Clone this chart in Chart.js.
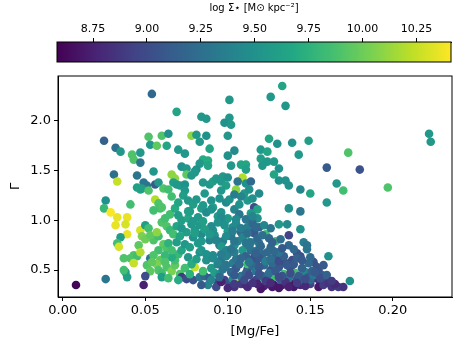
<!DOCTYPE html>
<html>
<head>
<meta charset="utf-8">
<script src="https://cdn.jsdelivr.net/npm/chart.js@4/dist/chart.umd.min.js"></script>
<style>
  body { margin: 0; background: #fff; }
  #wrap { position: relative; width: 463px; height: 347px; }
  #main, #cbar { position: absolute; left: 0; top: 0; }
</style>
</head>
<body>
<div id="wrap">
  <canvas id="main" width="463" height="347"></canvas>
  <canvas id="cbar" width="463" height="68"></canvas>
</div>
<script>
// [Mg/Fe] (x), Gamma (y) and log Sigma_* (colour), one entry per galaxy
const mgFe = [
  .008,.026,.049,.054,.101,.069,.084,.087,.101,.098,
  .102,.025,.052,.060,.064,.078,.081,.083,.087,.100,
  .053,.057,.063,.032,.035,.042,.043,.047,.047,.070,
  .074,.089,.085,.088,.088,.083,.100,.104,.102,.108,
  .111,.111,.072,.075,.080,.081,.055,.031,.033,.045,
  .066,.068,.075,.078,.080,.056,.058,.049,.051,.045,
  .047,.048,.052,.061,.064,.067,.069,.071,.074,.074,
  .085,.089,.091,.093,.097,.100,.096,.099,.105,.109,
  .106,.111,.114,.110,.133,.126,.135,.125,.130,.139,
  .149,.120,.124,.120,.124,.128,.121,.131,.128,.131,
  .135,.137,.143,.144,.150,.160,.180,.173,.166,.170,
  .197,.222,.223,.160,.137,.144,.116,.118,.114,.118,
  .131,.136,.144,.137,.123,.129,.119,.116,.125,.132,
  .137,.146,.148,.148,.142,.144,.161,.152,.154,.155,
  .147,.139,.135,.138,.134,.141,.128,.119,.153,.156,
  .159,.163,.167,.149,.174,.128,.133,.139,.144,.122,
  .117,.126,.131,.122,.117,.112,.129,.121,.114,.126,
  .119,.111,.113,.122,.126,.026,.025,.029,.033,.039,
  .041,.032,.038,.039,.035,.033,.034,.047,.048,.050,
  .046,.037,.041,.043,.045,.043,.038,.039,.037,.047,
  .053,.055,.058,.050,.052,.056,.058,.059,.055,.060,
  .053,.057,.060,.062,.063,.065,.067,.061,.063,.058,
  .055,.059,.057,.051,.053,.058,.060,.063,.066,.068,
  .071,.050,.060,.064,.072,.075,.079,.080,.083,.086,
  .089,.094,.098,.101,.103,.106,.108,.111,.068,.070,
  .066,.072,.069,.074,.071,.075,.069,.072,.065,.068,
  .070,.073,.066,.076,.079,.077,.076,.078,.080,.079,
  .077,.076,.078,.081,.083,.082,.084,.083,.082,.084,
  .081,.086,.090,.087,.085,.091,.089,.084,.087,.090,
  .092,.094,.091,.095,.092,.090,.094,.091,.095,.096,
  .099,.096,.098,.100,.097,.099,.096,.098,.095,.102,
  .103,.100,.104,.102,.103,.100,.104,.101,.104,.107,
  .107,.105,.108,.106,.109,.107,.105,.108,.111,.112,
  .111,.113,.110,.112,.111,.112,.108,.115,.116,.114,
  .116,.115,.113,.117,.119,.118,.118,.117,.124,.121,
  .125,.129,.123,.127,.131,.134,.131,.128,.133,.140,
  .137,.142,.146,.150,.155,.120,.112,.104,.100,.093,
  .088,.084,.096,.132,.150,.157,.160,.152,.145,.149,
  .140,.158,.170,.140,.135,.076,.079,.086,.089,.096,
  .099,.105,.107,.072,.080,.084,.087,.094,.097,.104,
  .070,.085,.090,.096,.098,.103,.109,.111,.117,.119,
  .062,.064,.066,.074,.070,.077,.085,.090,.062,.054,
  .118,.123,.127,.133,.138,.143,.147,.151,.156,.161,
  .108,.113,.104,.099,.119,.126,.131,.136,.142,.165,
  .095,.099,.091,.096,.102,.093,.099,.104,.108,.112,
  .117,.121,.120,.124,.127,.115,.105,.094,.115,.119,
  .113,.104,.110,.115,.126,.131,.137,.142,.147,.153,
  .160,.163,.145,.150,.158
];
const gamma = [
  .35,.41,.35,2.27,2.21,2.09,2.04,2.02,2.03,1.98,
  1.96,1.80,1.84,1.85,1.87,1.85,1.86,1.79,1.85,1.85,
  1.76,1.75,1.75,1.73,1.69,1.66,1.61,1.68,1.58,1.71,
  1.67,1.72,1.61,1.60,1.55,1.57,1.65,1.70,1.55,1.56,
  1.56,1.51,1.54,1.52,1.49,1.51,1.49,1.46,1.39,1.45,
  1.46,1.42,1.46,1.45,1.48,1.36,1.38,1.38,1.35,1.33,
  1.31,1.32,1.30,1.32,1.31,1.38,1.36,1.35,1.36,1.30,
  1.38,1.36,1.39,1.42,1.44,1.43,1.39,1.35,1.31,1.43,
  1.39,1.37,1.39,1.27,2.35,2.24,2.15,1.82,1.77,1.78,
  1.80,1.71,1.69,1.62,1.59,1.59,1.55,1.52,1.46,1.40,
  1.40,1.35,1.66,1.31,1.27,1.53,1.51,1.68,1.37,1.30,
  1.33,1.87,1.79,1.18,1.12,1.09,1.13,1.11,1.07,1.02,
  .96,.96,.91,.85,.86,.79,.93,.87,.82,.81,
  .75,.78,.71,.75,.67,.64,.64,.58,.53,.50,
  .48,.60,.57,.52,.46,.47,.43,.42,.42,.38,
  .37,.33,.33,.43,.39,.35,.35,.36,.35,.34,
  .37,.50,.53,.55,.58,.51,.63,.66,.70,.73,
  .77,.80,.90,.95,.92,1.20,1.12,1.08,1.03,1.03,
  1.16,.95,.96,.86,.83,.77,.735,.90,.84,.81,
  .75,.62,.62,.65,.64,.57,.48,.43,.50,.68,
  .62,.80,.84,.95,.92,1.21,1.17,1.12,1.10,1.13,
  .85,.88,.98,1.02,.94,.90,.86,.76,.72,.70,
  .65,.60,.56,.55,.49,.50,.47,.53,.49,.55,
  .46,.44,.43,.42,.43,.41,.40,.53,.43,.44,
  .42,.38,.40,.37,.41,.39,.36,.35,.60,.66,
  .63,.70,.78,.76,.84,.88,.94,1.00,1.06,1.12,
  1.18,1.25,1.24,1.20,1.16,1.09,1.02,.96,.90,.83,
  .73,.63,.56,.61,.68,.77,.86,.95,1.03,1.12,
  1.21,1.27,1.20,1.08,.99,.90,.80,.70,.60,.52,
  .47,.56,.65,.75,.85,.94,1.04,1.13,1.22,1.30,
  1.18,1.08,.98,.89,.79,.70,.61,.53,.46,.48,
  .57,.66,.75,.84,.93,1.02,1.11,1.21,1.26,1.16,
  1.06,.97,.88,.79,.70,.60,.52,.44,.47,.56,
  .64,.74,.83,.93,1.01,1.20,1.24,.97,.88,.78,
  .63,.54,.45,.49,.62,.70,.82,.40,.40,.44,
  .47,.49,.59,.57,.59,.64,.68,.69,.72,.71,
  .42,.41,.38,.36,.33,.31,.33,.33,.32,.33,
  .35,.35,.38,.40,.40,.45,.40,.45,.52,.57,
  .56,.35,.33,.33,.38,1.09,.99,.91,.86,.74,
  .69,.61,.56,.92,.87,.79,.66,.57,.51,.45,
  1.05,1.15,1.11,1.03,.95,.89,.83,.77,.67,.53,
  .65,.77,.70,.52,.40,.46,.49,.40,.58,.58,
  .36,.39,.33,.44,.47,.44,.34,.49,.42,.37,
  .62,.58,.68,.64,.46,.61,.43,.55,.62,.36,
  .43,.55,.62,.66,.71,.80,.84,.79,.92,.87,
  .93,.85,.74,.68,.78,1.04,1.01,.98,1.22,1.27,
  1.31,.36,.40,.37,.37,.32,.33,.37,.41,.48,
  .45,.39,.60,.63,.55
];
const logSigma = [
  8.60,9.30,8.75,9.20,9.55,9.65,9.55,9.55,9.55,9.50,
  9.55,9.15,9.90,9.90,9.50,10.10,9.55,9.55,9.50,9.55,
  9.55,9.95,9.65,9.25,9.55,9.90,9.90,9.55,9.30,9.55,
  9.55,9.65,9.70,9.70,9.65,9.55,9.50,9.45,9.55,9.65,
  9.65,9.60,9.50,9.55,9.55,9.50,9.55,9.25,10.25,9.30,
  10.10,10.10,9.95,9.55,9.55,9.10,9.55,9.30,9.30,9.60,
  9.65,9.60,9.90,9.90,9.85,9.60,9.55,9.55,9.50,9.55,
  9.55,9.55,9.60,9.55,9.55,9.50,9.55,9.60,10.10,10.20,
  9.30,9.50,9.20,9.55,9.65,9.55,9.55,9.65,9.50,9.50,
  9.60,9.55,9.65,9.60,9.55,9.55,9.55,9.50,9.65,9.50,
  9.50,9.50,9.55,9.40,9.65,9.10,9.05,9.90,9.55,9.85,
  9.90,9.55,9.55,9.55,9.50,9.30,9.00,9.65,9.55,9.50,
  9.55,9.45,9.50,8.95,9.85,9.85,9.15,9.10,9.20,9.25,
  9.20,9.35,9.30,9.30,9.05,9.05,9.50,9.05,9.05,9.05,
  9.40,9.00,9.05,9.00,9.85,9.85,9.85,9.85,8.85,8.85,
  8.90,8.85,8.90,9.10,9.50,8.70,8.75,8.70,8.80,8.75,
  8.85,9.05,9.10,9.20,9.10,9.00,9.15,9.20,9.25,9.20,
  9.30,9.35,9.25,9.40,9.30,9.50,9.80,10.40,10.35,10.35,
  9.85,10.35,10.30,10.35,9.60,9.85,10.30,10.30,10.05,10.00,
  9.95,9.90,9.90,9.90,9.85,10.25,9.60,9.60,9.85,10.20,
  9.30,9.90,9.85,9.60,9.85,10.20,9.90,9.85,9.85,9.90,
  9.95,10.10,9.90,9.85,9.90,9.80,9.85,9.95,9.90,9.85,
  9.90,9.95,10.05,9.90,9.95,9.90,9.85,9.90,10.05,9.95,
  9.90,9.00,9.60,9.85,8.90,9.00,9.05,10.25,9.30,9.20,
  9.10,8.90,8.95,9.05,9.50,10.10,8.90,8.80,9.85,9.80,
  9.70,9.65,9.60,9.55,9.65,9.60,9.65,9.60,9.85,9.70,
  9.65,9.60,9.85,9.55,9.60,9.55,9.65,9.55,9.55,9.50,
  9.60,9.55,9.70,9.60,9.50,9.55,9.45,9.55,9.55,9.60,
  9.55,9.55,9.50,9.45,9.60,9.50,9.40,9.55,9.50,9.55,
  9.60,9.35,9.45,9.30,9.50,9.45,9.55,9.60,9.50,9.55,
  9.45,9.50,9.40,9.55,9.35,9.40,9.30,9.20,9.50,9.20,
  9.35,9.25,9.50,9.30,9.45,9.55,9.40,9.50,9.35,9.50,
  9.30,9.45,9.20,9.40,9.55,9.25,9.10,9.30,9.15,9.85,
  9.15,9.30,9.85,9.35,9.30,9.55,9.40,9.20,9.10,9.30,
  9.05,9.20,9.00,9.30,9.10,9.25,9.20,8.95,9.05,9.15,
  9.25,9.10,9.35,9.20,9.00,9.15,9.30,9.20,9.10,9.20,
  9.30,9.05,9.20,8.95,8.70,8.70,8.80,8.85,8.80,9.00,
  9.40,9.10,8.75,9.10,9.20,9.10,9.00,9.30,9.15,9.20,
  9.10,8.90,8.85,8.70,8.85,9.60,9.55,9.60,9.55,9.55,
  9.40,9.30,9.20,9.55,9.60,9.55,9.50,9.40,9.30,9.10,
  9.60,9.55,9.50,9.45,9.50,9.35,9.40,9.30,9.15,9.10,
  9.80,9.75,9.85,9.85,9.70,9.75,9.85,9.40,9.90,9.95,
  8.75,8.90,8.70,9.05,9.00,9.10,8.80,9.15,9.00,8.85,
  9.20,9.30,9.35,9.40,9.05,9.25,9.00,9.10,9.15,8.80,
  9.20,9.30,9.45,9.35,9.30,9.40,9.45,9.30,9.35,9.25,
  9.20,9.25,9.20,9.20,9.15,9.40,9.45,9.50,9.50,9.45,
  9.50,8.90,9.00,8.85,8.80,8.70,8.75,8.90,9.00,9.10,
  9.15,8.90,9.10,9.20,9.10
];

// tick labels
const xTicks = [0.00, 0.05, 0.10, 0.15, 0.20];
const yTicks = [0.5, 1.0, 1.5, 2.0];
const cbTicks = [8.75, 9.00, 9.25, 9.50, 9.75, 10.00, 10.25];
const cMin = 8.583, cMax = 10.41;

// viridis colour map
const viridisStops = ["#440154", "#482475", "#414487", "#355f8d", "#2a788e", "#21918c",
  "#22a884", "#44bf70", "#7ad151", "#bddf26", "#fde725"];

function hexToRgb(h) {
  return [parseInt(h.slice(1, 3), 16), parseInt(h.slice(3, 5), 16), parseInt(h.slice(5, 7), 16)];
}

function viridis(v) {
  let t = Math.min(1, Math.max(0, (v - cMin) / (cMax - cMin)));
  const pos = t * (viridisStops.length - 1);
  const i = Math.min(viridisStops.length - 2, Math.floor(pos));
  const f = pos - i;
  const a = hexToRgb(viridisStops[i]), b = hexToRgb(viridisStops[i + 1]);
  const c = a.map((ai, k) => Math.round(ai + (b[k] - ai) * f));
  return `rgb(${c[0]},${c[1]},${c[2]})`;
}

Chart.defaults.font.family = "'DejaVu Sans', sans-serif";
Chart.defaults.color = "#000";

// black frame round the chart area
const frame = {
  id: "frame",
  afterDraw(chart) {
    const a = chart.chartArea, ctx = chart.ctx;
    ctx.save();
    ctx.strokeStyle = "#000";
    ctx.lineWidth = 1;
    ctx.strokeRect(a.left, a.top, a.right - a.left, a.bottom - a.top);
    ctx.restore();
  }
};

// scatter plot
const points = mgFe.map((x, i) => ({ x: x, y: gamma[i] }));
const colors = logSigma.map(viridis);

new Chart(document.getElementById("main").getContext("2d"), {
  type: "scatter",
  data: {
    datasets: [{
      data: points,
      backgroundColor: colors,
      borderWidth: 0,
      pointRadius: 4.3,
      pointHoverRadius: 4.3
    }]
  },
  options: {
    responsive: false,
    animation: false,
    events: [],
    layout: { padding: { top: 76, right: 11, left: 0, bottom: 0 } },
    plugins: { legend: { display: false }, tooltip: { enabled: false } },
    scales: {
      x: {
        type: "linear",
        min: -0.0029,
        max: 0.2359,
        afterBuildTicks: s => { s.ticks = xTicks.map(v => ({ value: v })); },
        afterFit: s => { s.height = 50; },
        ticks: { callback: v => v.toFixed(2), font: { size: 13 }, padding: 2, maxRotation: 0 },
        grid: { drawOnChartArea: false, tickLength: 4, color: "#000" },
        border: { color: "#000" },
        title: { display: true, text: "[Mg/Fe]", font: { size: 13 }, padding: { top: 0, bottom: 8 } }
      },
      y: {
        type: "linear",
        min: 0.23,
        max: 2.45,
        afterBuildTicks: s => { s.ticks = yTicks.map(v => ({ value: v })); },
        afterFit: s => { s.width = 58; },
        ticks: { callback: v => v.toFixed(1), font: { size: 13 }, padding: 3 },
        grid: { drawOnChartArea: false, tickLength: 4, color: "#000" },
        border: { color: "#000" },
        title: { display: true, text: "Γ", font: { size: 13 }, padding: { top: 8, bottom: 0 } }
      }
    }
  },
  plugins: [frame]
});

// colour bar on top
const gradientBar = {
  id: "gradientBar",
  beforeDatasetsDraw(chart) {
    const a = chart.chartArea, ctx = chart.ctx;
    const g = ctx.createLinearGradient(a.left, 0, a.right, 0);
    viridisStops.forEach((c, i) => g.addColorStop(i / (viridisStops.length - 1), c));
    ctx.save();
    ctx.fillStyle = g;
    ctx.fillRect(a.left, a.top, a.right - a.left, a.bottom - a.top);
    ctx.restore();
  }
};

new Chart(document.getElementById("cbar").getContext("2d"), {
  type: "scatter",
  data: { datasets: [{ data: [] }] },
  options: {
    responsive: false,
    animation: false,
    events: [],
    layout: { padding: { top: 0, right: 12, left: 57, bottom: 6 } },
    plugins: { legend: { display: false }, tooltip: { enabled: false } },
    scales: {
      x: {
        type: "linear",
        position: "top",
        min: cMin,
        max: cMax,
        afterBuildTicks: s => { s.ticks = cbTicks.map(v => ({ value: v })); },
        afterFit: s => { s.height = 42; },
        ticks: { callback: v => v.toFixed(2), font: { size: 11 }, padding: 2, maxRotation: 0 },
        grid: { drawOnChartArea: false, tickLength: 4, color: "#000" },
        border: { color: "#000" },
        title: { display: true, text: "log Σ⋆ [M⊙ kpc⁻²]", font: { size: 10 }, padding: { top: 2, bottom: 0 } }
      },
      y: { display: false, min: 0, max: 1 }
    }
  },
  plugins: [gradientBar, frame]
});
</script>
</body>
</html>
